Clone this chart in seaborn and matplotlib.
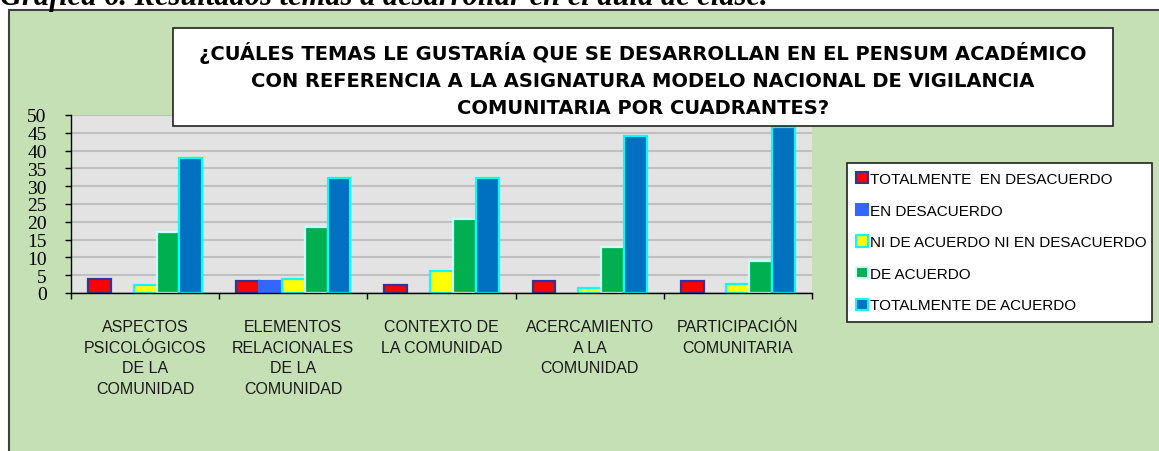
import numpy as np
import pandas as pd
import seaborn as sns
import matplotlib.pyplot as plt
from matplotlib.patches import Rectangle, Patch

# datos
temas = [
    "ASPECTOS\nPSICOLÓGICOS\nDE LA\nCOMUNIDAD",
    "ELEMENTOS\nRELACIONALES\nDE LA\nCOMUNIDAD",
    "CONTEXTO DE\nLA COMUNIDAD",
    "ACERCAMIENTO\nA LA\nCOMUNIDAD",
    "PARTICIPACIÓN\nCOMUNITARIA",
]
respuestas = [
    "TOTALMENTE  EN DESACUERDO",
    "EN DESACUERDO",
    "NI DE ACUERDO NI EN DESACUERDO",
    "DE ACUERDO",
    "TOTALMENTE DE ACUERDO",
]
tot_desacuerdo = [4, 3.5, 2.3, 3.5, 3.5]
en_desacuerdo = [0, 3.5, 0, 0, 0]
ni_ni = [2.3, 4, 6.2, 1.3, 2.6]
de_acuerdo = [17, 18.6, 20.8, 13, 9]
tot_acuerdo = [38, 32.2, 32.2, 44.1, 46.5]
yticks = list(range(0, 51, 5))

colores = ["#ff0000", "#3366ff", "#ffff00", "#00b050", "#0070c0"]
bordes = ["#333399", "#3366ff", "#00ffff", "#ccffff", "#00ffff"]

titulo = [
    "¿CUÁLES TEMAS LE GUSTARÍA QUE SE DESARROLLAN EN EL PENSUM ACADÉMICO",
    "CON REFERENCIA A LA ASIGNATURA MODELO NACIONAL DE VIGILANCIA",
    "COMUNITARIA POR CUADRANTES?",
]
leyenda_txt = "Gráfica 6. Resultados temas a desarrollar en el aula de clase."

series = [tot_desacuerdo, en_desacuerdo, ni_ni, de_acuerdo, tot_acuerdo]
df = pd.DataFrame({
    "tema": np.tile(temas, len(respuestas)),
    "respuesta": np.repeat(respuestas, len(temas)),
    "valor": np.concatenate(series),
})

W, H = 1159, 452
fig = plt.figure(figsize=(W / 100, H / 100), dpi=100)
fig.patch.set_facecolor("white")

# panel verde de fondo
fig.patches.append(Rectangle((8.5 / W, -0.1), 1.2, 1 - 10.5 / H + 0.1, transform=fig.transFigure,
                             facecolor="#c5e0b4", edgecolor="#404040", lw=1.5, zorder=-1))

ax = fig.add_axes([71 / W, (H - 294) / H, (812 - 71) / W, (294 - 116) / H])
ax.set_facecolor("#e3e3e3")

sns.barplot(data=df, x="tema", y="valor", hue="respuesta", order=temas, hue_order=respuestas,
            palette=colores, saturation=1, width=0.77, gap=0, errorbar=None, legend=False, ax=ax)

for cont, ec in zip(ax.containers, bordes):
    for bar in cont:
        bar.set_edgecolor(ec)
        bar.set_linewidth(1.6)
        if bar.get_height() == 0:
            bar.set_visible(False)

ax.set_xlim(-0.5, len(temas) - 0.5)
ax.set_ylim(0, 50)
ax.set_yticks(yticks)
ax.set_yticklabels([str(v) for v in yticks], family="Liberation Serif", fontsize=14)
ax.yaxis.grid(True, color="#c0c0c0", lw=1.5)
ax.set_axisbelow(True)
ax.set_xlabel("")
ax.set_ylabel("")

ax.set_xticks(range(len(temas)))
ax.set_xticklabels(temas, family="Liberation Sans", fontsize=11.5, color="#1a1a1a", linespacing=1.45)
ax.set_xticks(np.arange(-0.5, len(temas), 1), minor=True)
ax.tick_params(axis="x", which="major", length=0, pad=19)
ax.tick_params(axis="x", which="minor", length=4.5, width=1, color="black", direction="out")
ax.tick_params(axis="y", length=4.5, width=1, color="black", pad=13)
for s in ["top", "right"]:
    ax.spines[s].set_visible(False)
for s in ["left", "bottom"]:
    ax.spines[s].set_color("black")
    ax.spines[s].set_linewidth(1)

# caja del titulo
fig.patches.append(Rectangle((173 / W, (H - 127) / H), 940 / W, 98 / H, transform=fig.transFigure,
                             facecolor="white", edgecolor="#222222", lw=1.2, zorder=2))
for i, linea in enumerate(titulo):
    fig.text(643 / W, 1 - (59.5 + 27.5 * i) / H, linea, ha="center", va="baseline",
             fontsize=14, fontweight="bold", family="DejaVu Sans", zorder=3)

# texto de la pagina, cortado arriba como en el original
fig.text(0 / W, 1 - 5.5 / H, leyenda_txt, ha="left", va="baseline", fontsize=22,
         family="Liberation Serif", fontweight="bold", style="italic", zorder=3)

handles = [Patch(facecolor=c, edgecolor=e, lw=1.5) for c, e in zip(colores, bordes)]
leg = fig.legend(handles, respuestas, loc="upper left",
                 bbox_to_anchor=(847 / W, (H - 320) / H, 305 / W, 156 / H), mode="expand",
                 borderaxespad=0, frameon=True, fancybox=False, framealpha=1,
                 prop={"family": "Liberation Sans", "size": 11},
                 handlelength=0.75, handleheight=0.75, handletextpad=0.15,
                 labelspacing=1.15, borderpad=0.6)
leg.get_frame().set_edgecolor("#222222")
leg.get_frame().set_linewidth(1.2)
leg.set_zorder(3)

fig.savefig("out.png", dpi=100)
